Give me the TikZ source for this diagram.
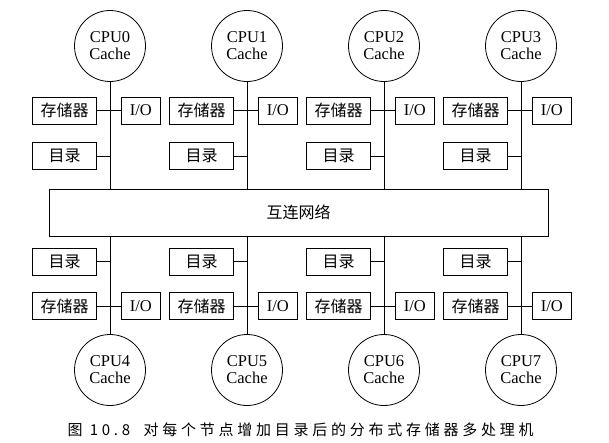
\documentclass[tikz,border=0pt]{standalone}
\usepackage{fontspec}
\setmainfont{Liberation Serif}
\newfontfamily\cjkfont{Noto Sans CJK SC}
\newfontfamily\capfont[LetterSpace=25]{Noto Sans CJK SC}
\usetikzlibrary{positioning}

\begin{document}
\begin{tikzpicture}[x=1pt, y=1pt, line width=0.8pt,
  unit/.style={circle, draw=black, minimum size=71pt, inner sep=0pt, align=center, font=\fontsize{16.5}{17}\selectfont},
  box/.style={rectangle, draw=black, minimum width=64pt, minimum height=27pt, inner sep=0pt, font=\cjkfont\fontsize{16}{16}\selectfont},
  iobox/.style={box, minimum width=39pt, font=\fontsize{16.5}{17}\selectfont}]
\useasboundingbox (0,0) rectangle (609,-442);
\node[rectangle, draw=black, minimum width=499pt, minimum height=47pt, font=\cjkfont\fontsize{16}{16}\selectfont] (net) at (298.5,-212.5) {互连网络};
\foreach \i in {0,...,3}{
  \pgfmathsetmacro\cx{110+137*\i}
  \pgfmathtruncatemacro\j{\i+4}
  % upper nodes
  \node[unit] (cpu\i) at (\cx,-46) {CPU\i\\Cache};
  \node[box, anchor=east] (mem\i) at (\cx-13,-110.5) {存储器};
  \node[iobox, right = 24pt of mem\i] (io\i) {I/O};
  \node[box, below = 18pt of mem\i] (dir\i) {目录};
  \draw (cpu\i) -- (cpu\i |- net.north);
  \draw (mem\i) -- (io\i);
  \draw (dir\i) -- (dir\i -| cpu\i);
  % lower nodes
  \node[unit] (cpu\j) at (\cx,-370) {CPU\j\\Cache};
  \node[box, anchor=east] (dir\j) at (\cx-13,-261.5) {目录};
  \node[box, below = 17pt of dir\j] (mem\j) {存储器};
  \node[iobox, right = 24pt of mem\j] (io\j) {I/O};
  \draw (cpu\j) -- (cpu\j |- net.south);
  \draw (mem\j) -- (io\j);
  \draw (dir\j) -- (dir\j -| cpu\j);
}
\node[anchor=west, font=\capfont\fontsize{15}{15}\selectfont] (caption) at (64,-430) {图 10.8\hspace{0.9em}对每个节点增加目录后的分布式存储器多处理机};
\end{tikzpicture}
\end{document}
